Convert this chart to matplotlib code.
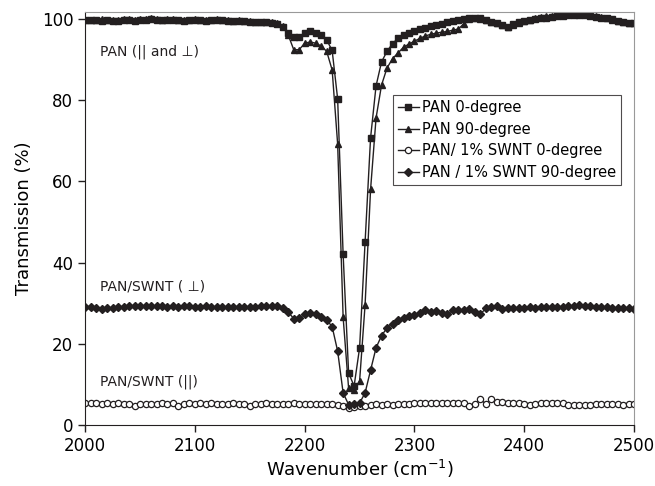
import numpy as np
import matplotlib
matplotlib.use("Agg")
import matplotlib.pyplot as plt

# wavenumber grid (cm^-1), one sample every 5
wavenumber = np.arange(2000, 2501, 5)

pan_0deg = [
    99.8, 99.7, 99.6, 99.5, 99.6, 99.4, 99.5, 99.6, 99.7, 99.5,
    99.6, 99.8, 99.9, 99.7, 99.6, 99.8, 99.7, 99.6, 99.5, 99.6,
    99.7, 99.6, 99.5, 99.6, 99.7, 99.6, 99.5, 99.4, 99.5, 99.4,
    99.3, 99.2, 99.2, 99.1, 99.0, 98.8, 98.0, 96.6, 95.5, 95.4,
    96.6, 97.0, 96.6, 96.0, 94.8, 92.2, 80.3, 42.0, 12.8, 9.6,
    19.0, 45.0, 70.7, 83.5, 89.4, 92.0, 93.9, 95.2, 96.0, 96.6,
    97.1, 97.5, 97.8, 98.2, 98.5, 98.8, 99.2, 99.5, 99.8, 100.0,
    100.2, 100.2, 100.1, 99.7, 99.3, 99.0, 98.5, 98.0, 98.6, 99.1,
    99.4, 99.6, 100.0, 100.2, 100.3, 100.5, 100.6, 100.8, 100.9, 101.0,
    101.0, 100.9, 100.6, 100.5, 100.3, 100.2, 99.9, 99.4, 99.2, 99.0,
    98.9,
]

pan_90deg = [
    99.6, 99.8, 99.7, 99.9, 99.8, 99.6, 99.7, 99.9, 100.0, 99.8,
    99.9, 100.0, 100.1, 99.9, 99.8, 100.0, 99.9, 99.8, 99.7, 99.8,
    99.9, 99.8, 99.7, 99.8, 99.9, 99.8, 99.6, 99.5, 99.6, 99.5,
    99.4, 99.3, 99.3, 99.2, 99.1, 98.9, 98.2, 96.0, 92.4, 92.4,
    94.0, 94.3, 94.0, 93.3, 92.0, 87.4, 69.2, 26.5, 9.0, 8.6,
    10.8, 29.6, 58.0, 75.6, 83.7, 87.9, 90.2, 91.6, 93.0, 93.8,
    94.5, 95.2, 95.8, 96.2, 96.5, 96.7, 96.9, 97.2, 97.5, 98.8,
    100.0, 100.2, 100.0, 99.6, 99.2, 98.9, 98.4, 97.9, 98.5, 99.0,
    99.4, 99.7, 100.1, 100.4, 100.6, 100.8, 101.0, 101.1, 101.2, 101.3,
    101.3, 101.2, 101.0, 100.8, 100.5, 100.2, 99.8, 99.4, 99.2, 99.0,
    98.9,
]

swnt_0deg = [
    5.4, 5.3, 5.3, 5.2, 5.3, 5.2, 5.3, 5.2, 5.1, 4.8,
    5.1, 5.2, 5.1, 5.2, 5.3, 5.2, 5.3, 4.8, 5.2, 5.3,
    5.2, 5.3, 5.2, 5.3, 5.2, 5.1, 5.2, 5.3, 5.2, 5.1,
    4.8, 5.2, 5.2, 5.3, 5.2, 5.2, 5.2, 5.2, 5.3, 5.2,
    5.2, 5.2, 5.1, 5.2, 5.1, 5.2, 5.0, 4.7, 4.3, 4.4,
    4.6, 4.8, 5.0, 5.1, 5.0, 5.1, 5.0, 5.1, 5.2, 5.2,
    5.3, 5.4, 5.5, 5.3, 5.4, 5.3, 5.3, 5.3, 5.4, 5.3,
    4.6, 5.1, 6.3, 5.2, 6.4, 5.6, 5.6, 5.4, 5.3, 5.4,
    5.1, 5.0, 5.1, 5.3, 5.3, 5.3, 5.4, 5.3, 5.0, 5.0,
    4.9, 5.0, 5.0, 5.2, 5.2, 5.2, 5.1, 5.2, 5.0, 5.1,
    5.2,
]

swnt_90deg = [
    29.1, 29.0, 28.7, 28.5, 28.7, 28.9, 29.0, 29.1, 29.2, 29.2,
    29.3, 29.3, 29.2, 29.2, 29.2, 29.1, 29.2, 29.1, 29.2, 29.2,
    29.1, 29.1, 29.2, 29.1, 29.1, 29.1, 29.1, 29.1, 29.1, 29.1,
    29.1, 29.1, 29.2, 29.2, 29.2, 29.2, 28.8, 27.8, 26.2, 26.3,
    27.3, 27.6, 27.3, 26.6, 25.9, 24.2, 18.2, 7.9, 5.0, 5.2,
    5.4, 7.9, 13.5, 19.0, 22.0, 23.9, 24.9, 25.8, 26.4, 26.8,
    27.1, 27.6, 28.2, 27.8, 28.1, 27.6, 27.3, 28.3, 28.3, 28.4,
    28.6, 27.8, 27.3, 28.7, 29.0, 29.3, 28.6, 28.8, 28.7, 28.9,
    28.9, 29.0, 28.9, 29.1, 29.1, 29.0, 29.1, 29.1, 29.2, 29.4,
    29.5, 29.2, 29.3, 29.1, 29.0, 29.0, 28.8, 28.9, 28.7, 28.8,
    28.5,
]

INK = "#231f20"

fig = plt.figure(figsize=(6.55, 4.86), dpi=100)
ax = fig.add_axes([0.13, 0.1255, 0.838, 0.85])

ax.plot(wavenumber, pan_0deg, color=INK, lw=1.0, marker="s", ms=4.5,
        label="PAN 0-degree")
ax.plot(wavenumber, pan_90deg, color=INK, lw=1.0, marker="^", ms=4.8,
        label="PAN 90-degree")
ax.plot(wavenumber, swnt_0deg, color=INK, lw=1.0, marker="o", ms=4.5,
        mfc="white", mew=0.9, label="PAN/ 1% SWNT 0-degree")
ax.plot(wavenumber, swnt_90deg, color=INK, lw=1.0, marker="D", ms=4,
        label="PAN / 1% SWNT 90-degree")

ax.set_xlim(2000, 2500)
ax.set_ylim(0, 101.7)
ax.set_xticks(range(2000, 2501, 100))
ax.set_yticks(range(0, 101, 20))
ax.tick_params(direction="out", length=5, width=1, labelsize=12, color=INK)
for side in ["top", "right"]:
    ax.spines[side].set_color("#999999")
for side in ["left", "bottom"]:
    ax.spines[side].set_color(INK)

ax.set_xlabel("Wavenumber (cm$^{-1}$)", fontsize=13, labelpad=2)
ax.set_ylabel("Transmission (%)", fontsize=13, labelpad=6)

ax.text(2013.7, 91.9, "PAN (|| and \u22a5)", fontsize=10, va="center", color=INK)
ax.text(2013.7, 34.0, "PAN/SWNT ( \u22a5)", fontsize=10, va="center", color=INK)
ax.text(2013.7, 10.6, "PAN/SWNT (||)", fontsize=10, va="center", color=INK)

leg = ax.legend(loc="upper left", bbox_to_anchor=(0.561, 0.799), fontsize=10.5,
                borderaxespad=0, frameon=True, fancybox=False, handlelength=1.4,
                handletextpad=0.25, borderpad=0.35, labelspacing=0.45)
leg.get_frame().set_edgecolor(INK)
leg.get_frame().set_linewidth(0.8)

fig.savefig("out.png", dpi=100)
